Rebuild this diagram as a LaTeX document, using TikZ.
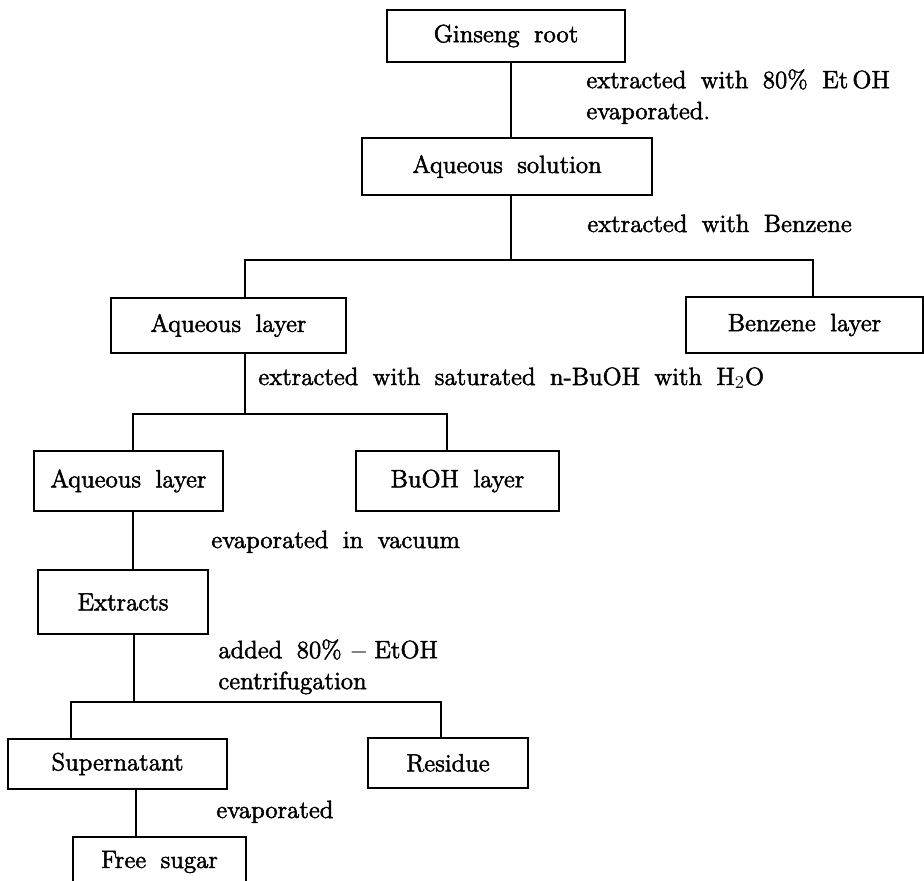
\documentclass[tikz,border=0pt]{standalone}
\usepackage{fontspec}
\newfontfamily\chartfont{lmroman12-regular.otf}[FakeBold=2, Ligatures=TeX]
\DeclareRobustCommand\chartsize{\chartfont\fontsize{12.5}{15.5}\selectfont
  \setlength{\spaceskip}{7.2pt plus 1pt}}
\tikzset{
  box/.style={draw, line width=0.9pt, inner sep=0pt, font=\chartsize},
  note/.style={inner sep=0pt, align=left, font=\chartsize},
  link/.style={line width=0.9pt}
}

\begin{document}
\begin{tikzpicture}[x=0.5pt, y=-0.5pt]
  \useasboundingbox (0,0) rectangle (924,881);
  % Boxes
  \node[box, minimum width=119pt, minimum height=26pt] (root) at (506,36) {Ginseng root};
  \node[box, minimum width=145pt, minimum height=28.5pt] (aqsol) at (507,166.5) {Aqueous solution};
  \node[box, minimum width=117.5pt, minimum height=27.5pt] (aqlay) at (228.5,325.5) {Aqueous layer};
  \node[box, minimum width=118.5pt, minimum height=28pt] (benz) at (804.5,325) {Benzene layer};
  \node[box, minimum width=94.5pt, minimum height=30pt] (aqlay2) at (128.5,481) {Aqueous layer};
  \node[box, minimum width=101.5pt, minimum height=30pt] (buoh) at (457.5,481) {BuOH layer};
  \node[box, minimum width=85pt, minimum height=32pt] (extr) at (123,602) {Extracts};
  \node[box, minimum width=109.5pt, minimum height=25pt] (super) at (117.5,764) {Supernatant};
  \node[box, minimum width=80pt, minimum height=25pt] (resid) at (448,763) {Residue};
  \node[box, minimum width=86.5pt, minimum height=25pt] (sugar) at (159.5,862) {Free sugar};
  % Branch points
  \coordinate (b1) at (511,260);
  \coordinate (b2) at (245,414);
  \coordinate (b3) at (134,702);
  % Connectors
  \draw[link] (root.south -| 511,0) -- (aqsol.north -| 511,0);
  \draw[link] (aqsol.south -| b1) -- (b1);
  \draw[link] (aqlay.north -| 245,0) |- (b1) -| (benz.north -| 813,0);
  \draw[link] (aqlay.south -| b2) -- (b2);
  \draw[link] (aqlay2.north -| 133,0) |- (b2) -| (buoh.north -| 447,0);
  \draw[link] (aqlay2.south -| 133,0) -- (extr.north -| 133,0);
  \draw[link] (extr.south -| b3) -- (b3);
  \draw[link] (super.north -| 71,0) |- (b3) -| (resid.north -| 441,0);
  \draw[link] (super.south -| 136,0) -- (sugar.north -| 136,0);
  % Step notes
  \node[note, anchor=north west] (n1) at (586,69) {extracted with 80\% Et\,OH\\evaporated.};
  \node[note, anchor=base west] (n2) at (587,232) {extracted with Benzene};
  \node[note, anchor=base west] (n3) at (258,385) {extracted with saturated n-BuOH with H$_2$O};
  \node[note, anchor=base west] (n4) at (211,548) {evaporated in vacuum};
  \node[note, anchor=north west] (n5) at (218,639) {added 80\%\hspace{4pt}$-$\hspace{3pt}EtOH\\centrifugation};
  \node[note, anchor=base west] (n6) at (216,818) {evaporated};
\end{tikzpicture}
\end{document}
